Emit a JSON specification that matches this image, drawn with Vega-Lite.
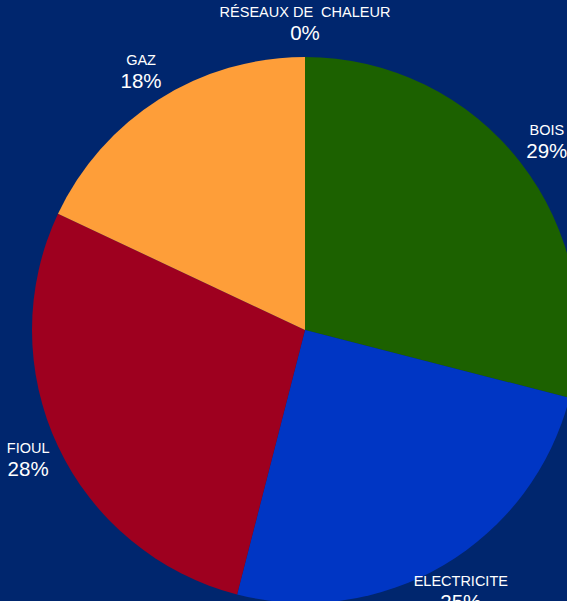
{
  "$schema": "https://vega.github.io/schema/vega-lite/v6.json",
  "autosize": "none",
  "width": 524,
  "height": 542,
  "padding": {"left": 43, "top": 59, "right": 0, "bottom": 0},
  "background": "#00266e",
  "config": {"view": {"stroke": null}, "font": "Liberation Sans"},
  "data": {
    "values": [
      {"energie": "BOIS", "part": 0.29},
      {"energie": "ELECTRICITE", "part": 0.25},
      {"energie": "FIOUL", "part": 0.28},
      {"energie": "GAZ", "part": 0.18},
      {"energie": "RÉSEAUX DE\u00a0 CHALEUR", "part": 0.0}
    ]
  },
  "encoding": {
    "theta": {"field": "part", "type": "quantitative", "stack": true},
    "order": {"field": "energie", "type": "ordinal", "sort": "ascending"}
  },
  "layer": [
    {
      "mark": {"type": "arc", "outerRadius": 273},
      "encoding": {
        "color": {
          "field": "energie",
          "type": "nominal",
          "legend": null,
          "scale": {
            "domain": ["BOIS", "ELECTRICITE", "FIOUL", "GAZ", "RÉSEAUX DE\u00a0 CHALEUR"],
            "range": ["#1c6100", "#0036c4", "#9e001f", "#fe9e39", "#7fa0d0"]
          }
        }
      }
    },
    {
      "mark": {"type": "text", "radius": 306, "dy": -11, "fontSize": 14.5, "fill": "#ffffff", "align": "center", "baseline": "middle"},
      "encoding": {"text": {"field": "energie"}, "detail": {"field": "energie", "type": "nominal"}}
    },
    {
      "mark": {"type": "text", "radius": 306, "dy": 10, "fontSize": 20.5, "fill": "#ffffff", "align": "center", "baseline": "middle"},
      "encoding": {"text": {"field": "part", "type": "quantitative", "format": ".0%"}, "detail": {"field": "energie", "type": "nominal"}}
    }
  ]
}
